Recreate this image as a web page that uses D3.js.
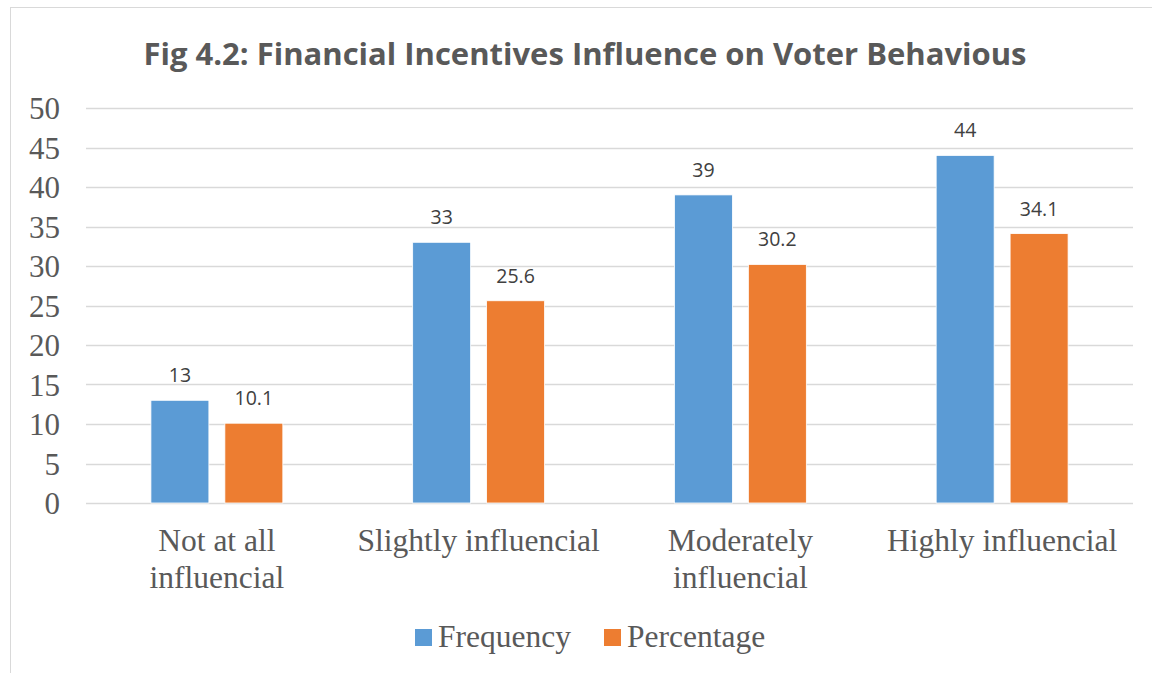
<!DOCTYPE html>
<html><head><meta charset="utf-8">
<script src="https://cdn.jsdelivr.net/npm/d3@7"></script>
<style>html,body{margin:0;padding:0;background:#fff;}svg{display:block;}</style>
</head><body>
<script>
const categories = ["Not at all influencial", "Slightly influencial", "Moderately influencial", "Highly influencial"];
const categoryLines = [["Not at all", "influencial"], ["Slightly influencial"], ["Moderately", "influencial"], ["Highly influencial"]];
const seriesNames = ["Frequency", "Percentage"];
const frequency = [13, 33, 39, 44];
const percentage = [10.1, 25.6, 30.2, 34.1];
const frequencyLabels = ["13", "33", "39", "44"];
const percentageLabels = ["10.1", "25.6", "30.2", "34.1"];
const yTicks = [0, 5, 10, 15, 20, 25, 30, 35, 40, 45, 50];
const colors = ["#5b9bd5", "#ed7d31"];

const W = 1152, H = 673;
const svg = d3.select("body").append("svg").attr("width", W).attr("height", H);
svg.append("rect").attr("x", 10.5).attr("y", 7.5).attr("width", 1160).attr("height", 700)
  .attr("fill", "#fff").attr("stroke", "#d9d9d9").attr("stroke-width", 1);

const plot = {left: 86, right: 1133, top: 108, bottom: 503};
const y = d3.scaleLinear().domain([0, 50]).range([plot.bottom, plot.top]);
const x0 = d3.scaleBand().domain(categories).range([plot.left, plot.right]).padding(0);
const bw = x0.bandwidth();
const x1 = d3.scaleBand().domain(seriesNames).range([bw * 0.248, bw * 0.752]).paddingInner(0.216).paddingOuter(0);

const serif = "'Liberation Serif', 'Times New Roman', serif";
const sans = "'Open Sans', sans-serif";

// title
svg.append("text").attr("x", 585).attr("y", 65).attr("text-anchor", "middle")
  .attr("font-family", sans).attr("font-weight", "bold").attr("font-size", 31)
  .attr("fill", "#595959").text("Fig 4.2: Financial Incentives Influence on Voter Behavious");

// gridlines
svg.append("g").selectAll("line").data(yTicks).join("line")
  .attr("x1", plot.left).attr("x2", plot.right)
  .attr("y1", d => Math.round(y(d)) + 0.5).attr("y2", d => Math.round(y(d)) + 0.5)
  .attr("stroke", "#d9d9d9").attr("stroke-width", 1.5);

// y axis labels
const yAxis = d3.axisLeft(y).tickValues(yTicks).tickSize(0).tickPadding(0);
const gy = svg.append("g").attr("transform", `translate(${60},0)`).call(yAxis);
gy.select(".domain").remove();
gy.selectAll("text").attr("font-family", serif)
  .attr("font-size", 31).attr("fill", "#595959").attr("dy", "0.34em");

// bars
const data = categories.map((c, i) => ({cat: c, vals: [
  {s: seriesNames[0], v: frequency[i], label: frequencyLabels[i], c: colors[0]},
  {s: seriesNames[1], v: percentage[i], label: percentageLabels[i], c: colors[1]}]}));

const groups = svg.append("g").selectAll("g").data(data).join("g")
  .attr("transform", d => `translate(${x0(d.cat)},0)`);
groups.selectAll("rect").data(d => d.vals).join("rect")
  .attr("x", d => x1(d.s)).attr("width", x1.bandwidth())
  .attr("y", d => y(d.v)).attr("height", d => y(0) - y(d.v))
  .attr("fill", d => d.c).attr("stroke", "#fff").attr("stroke-width", 0.8);
groups.selectAll("text.lbl").data(d => d.vals).join("text").attr("class", "lbl")
  .attr("x", d => x1(d.s) + x1.bandwidth() / 2).attr("y", d => y(d.v) - 18)
  .attr("text-anchor", "middle").attr("font-family", sans)
  .attr("font-size", 19.5).attr("fill", "#404040").text(d => d.label);

// x axis labels
const gx = svg.append("g").selectAll("text").data(categories).join("text")
  .attr("x", d => x0(d) + bw / 2).attr("y", 551)
  .attr("text-anchor", "middle").attr("font-family", serif)
  .attr("font-size", 31.5).attr("fill", "#595959");
gx.each(function(d, i) {
  const t = d3.select(this);
  categoryLines[i].forEach((ln, j) => {
    t.append("tspan").attr("x", x0(d) + bw / 2).attr("dy", j === 0 ? 0 : 37).text(ln);
  });
});

// legend
const legendX = [415, 604];
const lg = svg.append("g").selectAll("g").data(seriesNames).join("g")
  .attr("transform", (d, i) => `translate(${legendX[i]},629)`);
lg.append("rect").attr("width", 17).attr("height", 17).attr("fill", (d, i) => colors[i]);
lg.append("text").attr("x", 23).attr("y", 18).attr("font-family", serif)
  .attr("font-size", 31.5).attr("fill", "#595959").text(d => d);
</script>
</body></html>
